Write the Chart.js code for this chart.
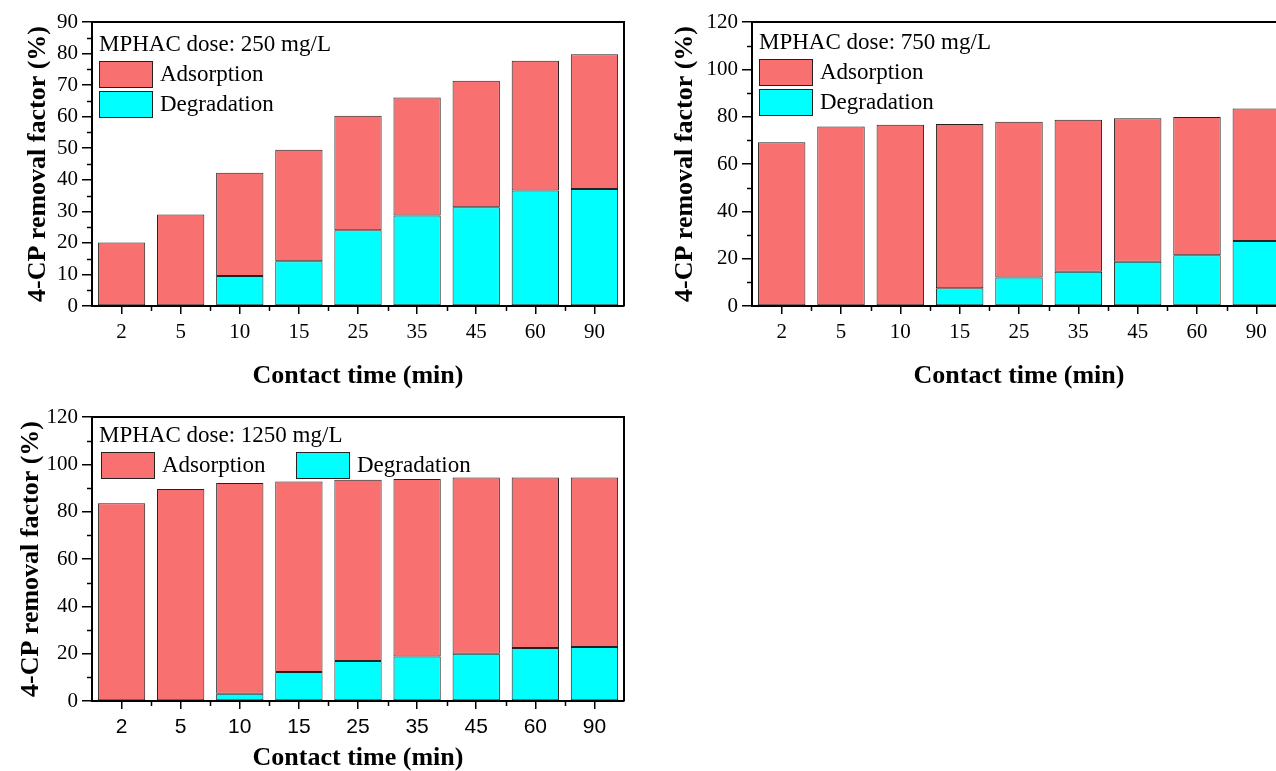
<!DOCTYPE html>
<html>
<head>
<meta charset="utf-8">
<script src="https://cdn.jsdelivr.net/npm/chart.js@4.4.1/dist/chart.umd.min.js"></script>
<style>
  html, body { margin: 0; padding: 0; background: #fff; width: 1276px; height: 771px; overflow: hidden; }
  canvas { position: absolute; }
</style>
</head>
<body>
<canvas id="c250" width="640" height="390" style="left:0;top:0"></canvas>
<canvas id="c750" width="660" height="390" style="left:640px;top:0"></canvas>
<canvas id="c1250" width="640" height="381" style="left:0;top:390px"></canvas>
<script>
// contact time categories (min)
const times = ['2', '5', '10', '15', '25', '35', '45', '60', '90'];

// removal factor (%) split into degradation (bottom) and adsorption (top)
const deg250 = [null, null, 9.5, 14.2, 24.0, 28.7, 31.3, 36.6, 37.1];
const ads250 = [20.1, 29.0, 32.7, 35.3, 36.3, 37.4, 40.1, 41.1, 42.7];

const deg750 = [null, null, null, 7.5, 12.0, 14.5, 18.7, 21.4, 27.5];
const ads750 = [69.2, 75.8, 76.6, 69.4, 65.9, 64.2, 60.6, 58.5, 55.9];

const deg1250 = [null, null, 3.1, 12.3, 16.9, 18.8, 20.0, 22.4, 22.8];
const ads1250 = [83.6, 89.6, 89.0, 80.4, 76.6, 75.0, 74.4, 72.0, 71.6];

// y axis ranges / tick steps
const yMax250 = 90, yStep250 = 10, yMinor250 = 5;
const yMax750 = 120, yStep750 = 20, yMinor750 = 10;
const yMax1250 = 120, yStep1250 = 20, yMinor1250 = 10;

const RED = '#F97070';
const CYAN = '#00FFFF';
const SERIF = '"Liberation Serif", "Times New Roman", serif';
const SANS = '"Liberation Sans", Arial, sans-serif';

// minor ticks, top/right frame
const framePlugin = {
  id: 'frame',
  afterDraw(chart, args, opts) {
    const { ctx, chartArea: a, scales } = chart;
    ctx.save();
    ctx.strokeStyle = '#000';
    ctx.lineWidth = 1.5;
    // minor y ticks
    const y = scales.y;
    for (let v = 0; v <= y.max; v += opts.yMinor) {
      if (v % opts.yStep === 0) continue;
      const py = Math.round(y.getPixelForValue(v)) + 0.5;
      ctx.beginPath(); ctx.moveTo(a.left - 5, py); ctx.lineTo(a.left, py); ctx.stroke();
    }
    // minor x ticks between categories
    const x = scales.x;
    for (let i = 0; i < times.length - 1; i++) {
      const px = Math.round((x.getPixelForValue(i) + x.getPixelForValue(i + 1)) / 2) + 0.5;
      ctx.beginPath(); ctx.moveTo(px, a.bottom); ctx.lineTo(px, a.bottom + 5); ctx.stroke();
    }
    // top and right border
    ctx.lineWidth = 2;
    ctx.beginPath();
    ctx.moveTo(a.left, a.top);
    ctx.lineTo(a.right, a.top);
    ctx.lineTo(a.right, a.bottom);
    ctx.stroke();
    ctx.restore();
  }
};

// legend drawn inside the plot area
const insideLegend = {
  id: 'insideLegend',
  afterDatasetsDraw(chart, args, opts) {
    const { ctx, chartArea: a } = chart;
    ctx.save();
    ctx.fillStyle = '#000';
    ctx.textBaseline = 'middle';
    ctx.font = '23px ' + SERIF;
    ctx.fillText(opts.title, a.left + 7, a.top + opts.titleY);
    const items = chart.data.datasets.slice().reverse();
    items.forEach((ds, i) => {
      const bx = a.left + opts.boxX[i];
      const by = a.top + opts.boxY[i];
      ctx.fillStyle = ds.backgroundColor;
      ctx.fillRect(bx, by, 53, 26);
      ctx.strokeStyle = '#222';
      ctx.lineWidth = 1;
      ctx.strokeRect(bx + 0.5, by + 0.5, 53, 26);
      ctx.fillStyle = '#000';
      ctx.fillText(ds.label, bx + 61, by + 14);
    });
    ctx.restore();
  }
};

function makeChart(id, p) {
  return new Chart(document.getElementById(id), {
    type: 'bar',
    data: {
      labels: times,
      datasets: [
        { label: 'Degradation', data: p.deg, backgroundColor: CYAN },
        { label: 'Adsorption', data: p.ads, backgroundColor: RED }
      ]
    },
    options: {
      responsive: false,
      animation: false,
      events: [],
      layout: { padding: { left: 0, top: p.top, right: p.right, bottom: 0 } },
      datasets: {
        bar: {
          categoryPercentage: 1,
          barPercentage: 0.8,
          borderColor: '#222',
          borderWidth: 1,
          borderSkipped: false
        }
      },
      scales: {
        x: {
          stacked: true,
          afterFit: s => { s.height = p.xH; },
          ticks: { color: '#000', font: { family: p.xFont, size: 21 }, padding: 6, maxRotation: 0 },
          grid: { offset: false, drawOnChartArea: false, drawTicks: true, tickLength: 8, color: '#000', lineWidth: 1.5 },
          border: { display: true, color: '#000', width: 2 },
          title: {
            display: true, text: 'Contact time (min)', color: '#000',
            font: { family: SERIF, size: 26, weight: 'bold', lineHeight: 1 },
            padding: { top: 0, bottom: p.xTitlePad }
          }
        },
        y: {
          stacked: true,
          min: 0,
          max: p.yMax,
          afterFit: s => { s.width = p.yW; },
          ticks: { stepSize: p.yStep, color: '#000', font: { family: SERIF, size: 21 }, padding: 4 },
          grid: { drawOnChartArea: false, drawTicks: true, tickLength: 10, color: '#000', lineWidth: 1.5 },
          border: { display: true, color: '#000', width: 2 },
          title: {
            display: true, text: '4-CP removal factor (%)', color: '#000',
            font: { family: SERIF, size: 26, weight: 'bold', lineHeight: 1 },
            padding: { top: p.yTitlePad, bottom: 0 }
          }
        }
      },
      plugins: {
        legend: { display: false },
        tooltip: { enabled: false },
        frame: { yMinor: p.yMinor, yStep: p.yStep },
        insideLegend: p.legend
      }
    },
    plugins: [framePlugin, insideLegend]
  });
}

makeChart('c250', {
  deg: deg250, ads: ads250, yMax: yMax250, yStep: yStep250, yMinor: yMinor250,
  top: 22, right: 16, yW: 92, xH: 84, yTitlePad: 25, xTitlePad: 1, xFont: SERIF,
  legend: { title: 'MPHAC dose: 250 mg/L', titleY: 23, boxX: [7, 7], boxY: [39, 69] }
});

makeChart('c750', {
  deg: deg750, ads: ads750, yMax: yMax750, yStep: yStep750, yMinor: yMinor750,
  top: 22, right: 14, yW: 112, xH: 84, yTitlePad: 32, xTitlePad: 1, xFont: SERIF,
  legend: { title: 'MPHAC dose: 750 mg/L', titleY: 21, boxX: [7, 7], boxY: [37, 67] }
});

makeChart('c1250', {
  deg: deg1250, ads: ads1250, yMax: yMax1250, yStep: yStep1250, yMinor: yMinor1250,
  top: 27, right: 16, yW: 92, xH: 70, yTitlePad: 18, xTitlePad: 0, xFont: SANS,
  legend: { title: 'MPHAC dose: 1250 mg/L', titleY: 19, boxX: [9, 204], boxY: [35, 35] }
});
</script>
</body>
</html>
